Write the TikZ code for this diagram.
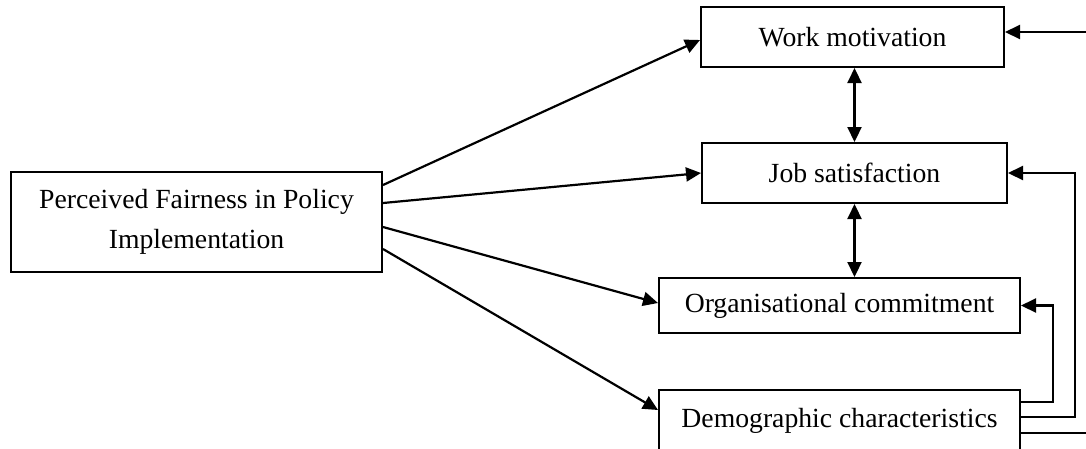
\documentclass[tikz,border=0pt]{standalone}
\usepackage{fontspec}
\setmainfont{Liberation Serif}
\usetikzlibrary{arrows.meta}
\begin{document}
\begin{tikzpicture}[x=1pt,y=-1pt,
  box/.style={draw,line width=2pt,inner sep=0pt,align=center,
    font=\fontsize{27.7}{40}\selectfont},
  tip/.tip={Triangle[length=15pt,width=14pt]},
  conn/.style={line width=2.2pt,-tip},
  dconn/.style={line width=2.2pt,tip-tip}]
\useasboundingbox (0,0) rectangle (1086,448);
\clip (0,0) rectangle (1086,448);
\node[box,minimum width=371pt,minimum height=100pt] (PF) at (196.5,222) {Perceived Fairness in Policy\\Implementation};
\node[box,minimum width=303pt,minimum height=60pt] (WM) at (852.5,37) {Work motivation};
\node[box,minimum width=305pt,minimum height=60pt] (JS) at (854.5,173) {Job satisfaction};
\node[box,minimum width=361pt,minimum height=55pt] (OC) at (839.5,305.5) {Organisational commitment};
\node[box,minimum width=361pt,minimum height=61pt] (DC) at (839.5,420.5) {Demographic characteristics};

\draw[conn] ([yshift=37pt]PF.east) -- ([yshift=-3pt]WM.west);
\draw[conn] ([yshift=19pt]PF.east) -- (JS.west);
\draw[conn] ([yshift=-5pt]PF.east) -- ([yshift=2.5pt]OC.west);
\draw[conn] ([yshift=-27pt]PF.east) -- ([yshift=10.5pt]DC.west);

\draw[dconn] (WM.south -| JS.north) -- (JS.north);
\draw[dconn] (JS.south) -- (JS.south |- OC.north);

\coordinate (c1) at (1053,0);
\coordinate (c2) at (1075,0);
\coordinate (c3) at (1110,0);
\draw[conn] ([yshift=18.5pt]DC.east) -| (c1 |- OC.east) -- (OC.east);
\draw[conn] ([yshift=3.5pt]DC.east) -| (c2 |- JS.east) -- (JS.east);
\draw[conn] ([yshift=-12.5pt]DC.east) -| ([yshift=5pt]c3 |- WM.east) -- ([yshift=5pt]WM.east);
\end{tikzpicture}
\end{document}
